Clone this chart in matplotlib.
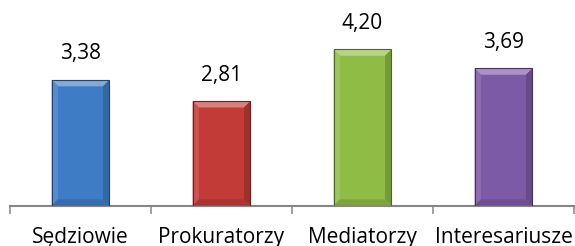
"""Bar chart: average ratings per group (bevelled bars)."""

import matplotlib

matplotlib.use("Agg")
import matplotlib.pyplot as plt
import numpy as np
from matplotlib.colors import to_rgb
from matplotlib.patches import Polygon

categories = ["Sędziowie", "Prokuratorzy", "Mediatorzy", "Interesariusze"]
values = [3.38, 2.81, 4.20, 3.69]
value_labels = ["3,38", "2,81", "4,20", "3,69"]
colors = ["#3F7CC6", "#C23B36", "#8FBC45", "#7D5AA6"]


def shade(color, f):
    r, g, b = to_rgb(color)
    if f >= 0:
        return (r + (1 - r) * f, g + (1 - g) * f, b + (1 - b) * f)
    return (r * (1 + f), g * (1 + f), b * (1 + f))


def main() -> None:
    plt.rcParams["font.family"] = ["Open Sans", "DejaVu Sans"]
    fig = plt.figure(figsize=(5.75, 2.46), dpi=100)
    ax = fig.add_axes([10 / 575, (246 - 205.7) / 246, 564 / 575, 186 / 246])

    x = np.arange(len(categories))
    width = 0.41
    bars = ax.bar(x, values, width=width, color=colors, edgecolor="none", zorder=2)

    # bevel: lighter top/left, darker right/bottom
    bx = 0.045
    by = 0.17
    for rect, c in zip(bars, colors):
        x0, y0 = rect.get_x(), rect.get_y()
        x1, y1 = x0 + rect.get_width(), y0 + rect.get_height()
        faces = [
            ([(x0, y1), (x1, y1), (x1 - bx, y1 - by), (x0 + bx, y1 - by)], shade(c, 0.35)),
            ([(x0, y0), (x0, y1), (x0 + bx, y1 - by), (x0 + bx, y0 + by)], shade(c, 0.12)),
            ([(x1, y0), (x1, y1), (x1 - bx, y1 - by), (x1 - bx, y0 + by)], shade(c, -0.18)),
            ([(x0, y0), (x1, y0), (x1 - bx, y0 + by), (x0 + bx, y0 + by)], shade(c, -0.12)),
        ]
        for pts, fc in faces:
            ax.add_patch(Polygon(pts, closed=True, facecolor=fc, edgecolor="none", zorder=3))
        ax.add_patch(Polygon([(x0, y0), (x0, y1), (x1, y1), (x1, y0)], closed=True,
                             facecolor="none", edgecolor=shade(c, -0.45), lw=0.8, zorder=4))

    for xi, v, lab in zip(x, values, value_labels):
        ax.text(xi, v + 0.7, lab, ha="center", va="center", fontsize=15,
                color="#000000", clip_on=False)

    ax.set_xlim(-0.5, len(categories) - 0.5)
    ax.set_ylim(0, 5)
    ax.set_yticks([])
    ax.set_xticks(np.arange(len(categories) + 1) - 0.5, minor=True)
    ax.set_xticks(x)
    ax.set_xticklabels(categories, fontsize=15)
    ax.tick_params(axis="x", which="major", length=0, pad=15)
    ax.tick_params(axis="x", which="minor", length=5.5, width=1.1, color="#868686")
    for side in ("top", "right", "left"):
        ax.spines[side].set_visible(False)
    ax.spines["bottom"].set_color("#868686")
    ax.spines["bottom"].set_linewidth(1.5)

    fig.savefig("out.png", dpi=100)
    plt.close(fig)


if __name__ == "__main__":
    main()
